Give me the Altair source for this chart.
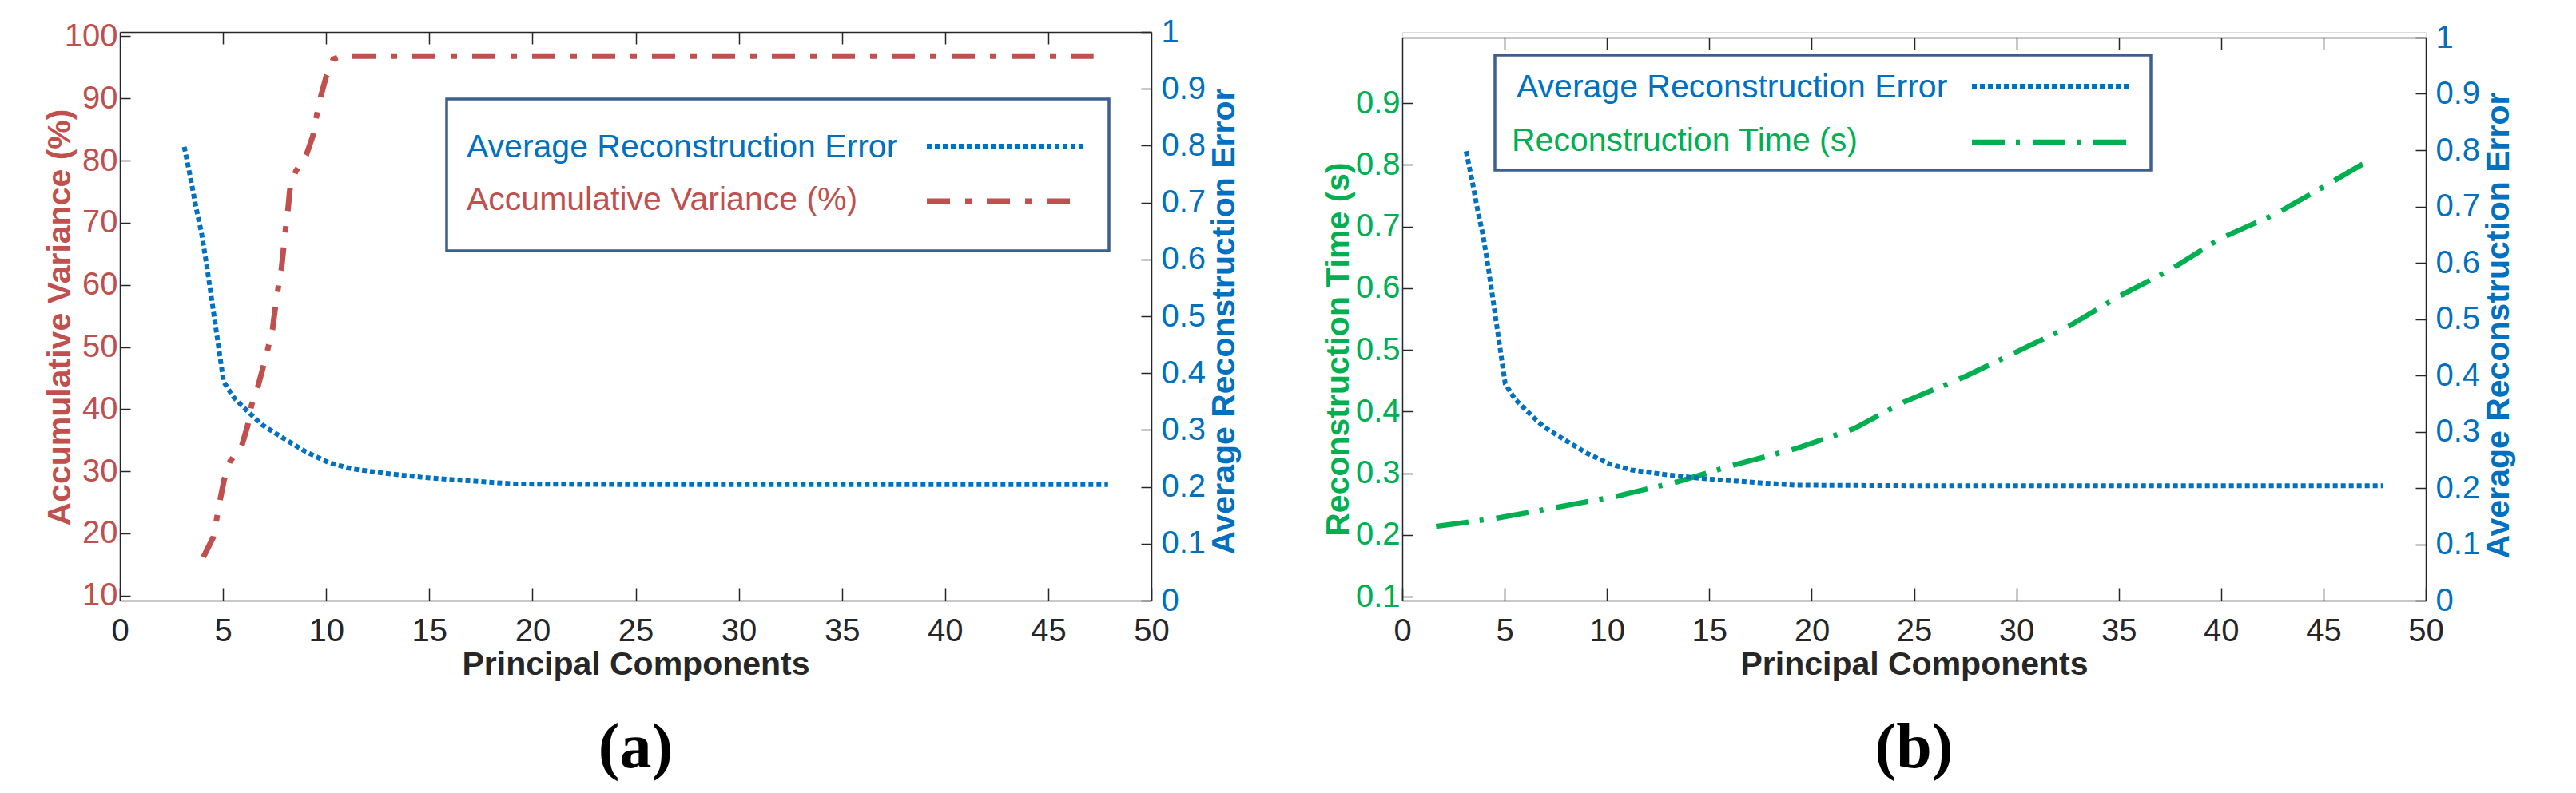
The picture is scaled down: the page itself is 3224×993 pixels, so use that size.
import altair as alt
import pandas as pd

# ---------------- data ----------------
pc_ticks = [0, 5, 10, 15, 20, 25, 30, 35, 40, 45, 50]
var_ticks = [10, 20, 30, 40, 50, 60, 70, 80, 90, 100]
err_ticks = [0, 0.1, 0.2, 0.3, 0.4, 0.5, 0.6, 0.7, 0.8, 0.9, 1]
time_ticks = [0.1, 0.2, 0.3, 0.4, 0.5, 0.6, 0.7, 0.8, 0.9]

# Average reconstruction error (same curve in both panels)
err_pc = [3.12, 3.4, 3.7, 3.95, 4.2, 4.45, 4.75, 5.03, 5.5, 6.1, 6.9, 7.9, 9.0,
          10.1, 11.2, 12.8, 14.6, 16.0, 17.2, 19.2, 25, 30, 35, 40, 45, 47.9]
err_val = [0.798, 0.748, 0.69, 0.648, 0.592, 0.53, 0.455, 0.385, 0.358, 0.336,
           0.309, 0.286, 0.262, 0.243, 0.232, 0.224, 0.217, 0.213, 0.210, 0.205,
           0.204, 0.204, 0.204, 0.204, 0.204, 0.204]

# Accumulative variance (%)
var_pc = [4.05, 4.53, 4.86, 5.05, 5.34, 5.9, 6.2, 6.38, 6.69, 6.95, 7.18, 7.4,
          7.53, 7.67, 7.83, 7.93, 8.03, 8.15, 8.24, 8.53, 9.04, 9.37, 9.55, 9.74,
          10.0, 10.34, 10.7, 15, 20, 25, 30, 35, 40, 45, 47.2]
var_pct = [16.2, 19.4, 25.4, 28.6, 31.6, 34.0, 37.4, 40.6, 43.6, 46.8, 49.8, 52.8,
           56.2, 59.4, 62.5, 65.7, 68.9, 72.1, 75.3, 78.3, 80.9, 84.1, 87.4, 90.3,
           93.5, 96.3, 96.8, 96.8, 96.8, 96.8, 96.8, 96.8, 96.8, 96.8, 96.8]

# Reconstruction time (s)
time_pc = [1.65, 4.56, 7.55, 10.48, 13.40, 16.26, 19.22, 22.05, 24.47, 27.43,
           29.89, 32.34, 34.91, 37.47, 39.93, 42.70, 45.25, 47.15]
time_s = [0.214, 0.227, 0.245, 0.263, 0.286, 0.314, 0.340, 0.372, 0.415, 0.456,
          0.495, 0.534, 0.585, 0.629, 0.680, 0.721, 0.769, 0.806]

legend_err = "Average Reconstruction Error"
legend_var = "Accumulative Variance (%)"
legend_time = "Reconstruction Time (s)"

# ---------------- styles ----------------
RED = "#C0504D"
BLUE = "#0070C0"
GREEN = "#00B050"
LEGB = "#3C5F8F"
AX = "#262626"
SANS = "Liberation Sans"
SERIF = "Liberation Serif"

df_err = pd.DataFrame({"pc": err_pc, "v": err_val})
df_var = pd.DataFrame({"pc": var_pc, "v": var_pct})
df_time = pd.DataFrame({"pc": time_pc, "v": time_s})
one = pd.DataFrame({"k": [0]})

xscale = alt.Scale(domain=[0, 50], nice=False, zero=False)
H = 712          # group height of both panels
TOPB = 7         # panel (b) plot starts 7 px lower than panel (a)


def common(**kw):
    base = dict(domainColor=AX, domainWidth=1.5, tickColor=AX, tickWidth=1.5,
                grid=False, labelFont=SANS, labelFontSize=40,
                titleFont=SANS, titleFontSize=41, titleFontWeight="bold")
    base.update(kw)
    return alt.Axis(**base)


def x_bottom():
    return common(orient="bottom", values=pc_ticks, format="d",
                  title="Principal Components", titleColor=AX,
                  titleBaseline="alphabetic", titleY=92,
                  labelColor=AX, labelPadding=34, labelFlush=False,
                  tickSize={"expr": "-16"})


def x_top(off):
    return common(orient="top", values=pc_ticks[1:-1], labels=False, title=None,
                  offset=off, tickSize={"expr": "-15"})


def legend_layers(box, entries):
    x0, x1, y0, y1 = box
    layers = [alt.Chart(one).mark_rect(fill="white", stroke=LEGB, strokeWidth=3.5)
              .encode(x=alt.value(x0), x2=alt.value(x1), y=alt.value(y0), y2=alt.value(y1))]
    for text, color, tx, ty, sx0, sx1, sy, dash, sw in entries:
        layers.append(alt.Chart(one).mark_text(text=text, align="left", baseline="alphabetic",
                                               font=SANS, fontSize=41, color=color)
                      .encode(x=alt.value(tx), y=alt.value(ty)))
        layers.append(alt.Chart(one).mark_rule(color=color, strokeWidth=sw, strokeDash=dash,
                                               strokeCap="butt")
                      .encode(x=alt.value(sx0), x2=alt.value(sx1), y=alt.value(sy)))
    return layers


DOT = [6, 4]
DASHDOT_R = [29, 19, 8, 19]
DASHDOT_G = [41, 14, 5, 16]

# ---------------- panel (a) ----------------
red_line = alt.Chart(df_var).mark_line(color=RED, strokeWidth=7, strokeDash=DASHDOT_R,
                                       strokeCap="butt").encode(
    x=alt.X("pc:Q", scale=xscale, axis=x_bottom()),
    y=alt.Y("v:Q", scale=alt.Scale(domain=[9.2, 100.7], nice=False, zero=False),
            axis=common(orient="left", values=var_ticks, format="d",
                        title=legend_var, titleColor=RED, titleAngle=270,
                        titleBaseline="alphabetic", titleAlign="center",
                        titleX=-63, titleY=357,
                        labelColor=RED, labelPadding=16,
                        tickSize={"expr": "-13"})),
)
blue_a = alt.Chart(df_err).mark_line(color=BLUE, strokeWidth=6, strokeDash=DOT,
                                     strokeCap="butt").encode(
    x=alt.X("pc:Q", scale=xscale, axis=x_top(0)),
    y=alt.Y("v:Q", scale=alt.Scale(domain=[0, 1], nice=False, zero=False),
            axis=common(orient="right", values=err_ticks, format="~g",
                        title=legend_err, titleColor=BLUE, titleAngle=270,
                        titleBaseline="alphabetic", titleAlign="center",
                        titleX=103, titleY=362,
                        labelColor=BLUE, labelPadding=25,
                        tickSize={"expr": "-13"})),
)
leg_a = legend_layers((409, 1238, 84, 274), [
    (legend_err, BLUE, 434, 157, 1010, 1207, 143, DOT, 6),
    (legend_var, RED, 434, 223, 1010, 1202, 212, DASHDOT_R, 7),
])
panel_a = alt.layer(red_line, blue_a, *leg_a).resolve_scale(y="independent").resolve_axis(
    x="independent").properties(
    width=1291, height=H,
    title=alt.TitleParams("(a)", orient="bottom", font=SERIF, fontSize=80,
                          fontWeight="bold", color="black", anchor="middle", offset=46))

# ---------------- panel (b) ----------------
green_line = alt.Chart(df_time).mark_line(color=GREEN, strokeWidth=6.5, strokeDash=DASHDOT_G,
                                          strokeCap="butt").encode(
    x=alt.X("pc:Q", scale=xscale, axis=x_bottom()),
    y=alt.Y("v:Q", scale=alt.Scale(domain=[0.0938, 1.0064], nice=False, zero=False,
                                   range=[H, TOPB]),
            axis=common(orient="left", values=time_ticks, format=".1f",
                        title=legend_time, titleColor=GREEN, titleAngle=270,
                        titleBaseline="alphabetic", titleAlign="center",
                        titleX=-68, titleY=390 + TOPB,
                        labelColor=GREEN, labelPadding=16,
                        tickSize={"expr": "-13"})),
)
blue_b = alt.Chart(df_err).mark_line(color=BLUE, strokeWidth=6, strokeDash=DOT,
                                     strokeCap="butt").encode(
    x=alt.X("pc:Q", scale=xscale, axis=x_top(-TOPB)),
    y=alt.Y("v:Q", scale=alt.Scale(domain=[0, 1], nice=False, zero=False,
                                   range=[H, TOPB]),
            axis=common(orient="right", values=err_ticks, format="~g",
                        title=legend_err, titleColor=BLUE, titleAngle=270,
                        titleBaseline="alphabetic", titleAlign="center",
                        titleX=103, titleY=360 + TOPB,
                        labelColor=BLUE, labelPadding=25,
                        tickSize={"expr": "-13"})),
)
leg_b = legend_layers((116, 937, 22 + TOPB, 166 + TOPB), [
    (legend_err, BLUE, 143, 75 + TOPB, 713, 909, 61 + TOPB, DOT, 6),
    (legend_time, GREEN, 137, 142 + TOPB, 713, 909, 131 + TOPB, DASHDOT_G, 6.5),
])
panel_b = alt.layer(green_line, blue_b, *leg_b).resolve_scale(
    y="independent").resolve_axis(x="independent").properties(
    width=1281, height=H,
    title=alt.TitleParams("(b)", orient="bottom", font=SERIF, fontSize=80,
                          fontWeight="bold", color="black", anchor="middle", offset=46))

chart = alt.hconcat(panel_a, panel_b, spacing=100).properties(
    padding={"left": 45, "top": 11, "right": 5, "bottom": 5}
).configure_view(stroke=None).configure(background="white")

chart.save("out.html", embed_options={"renderer": "svg", "actions": False})
